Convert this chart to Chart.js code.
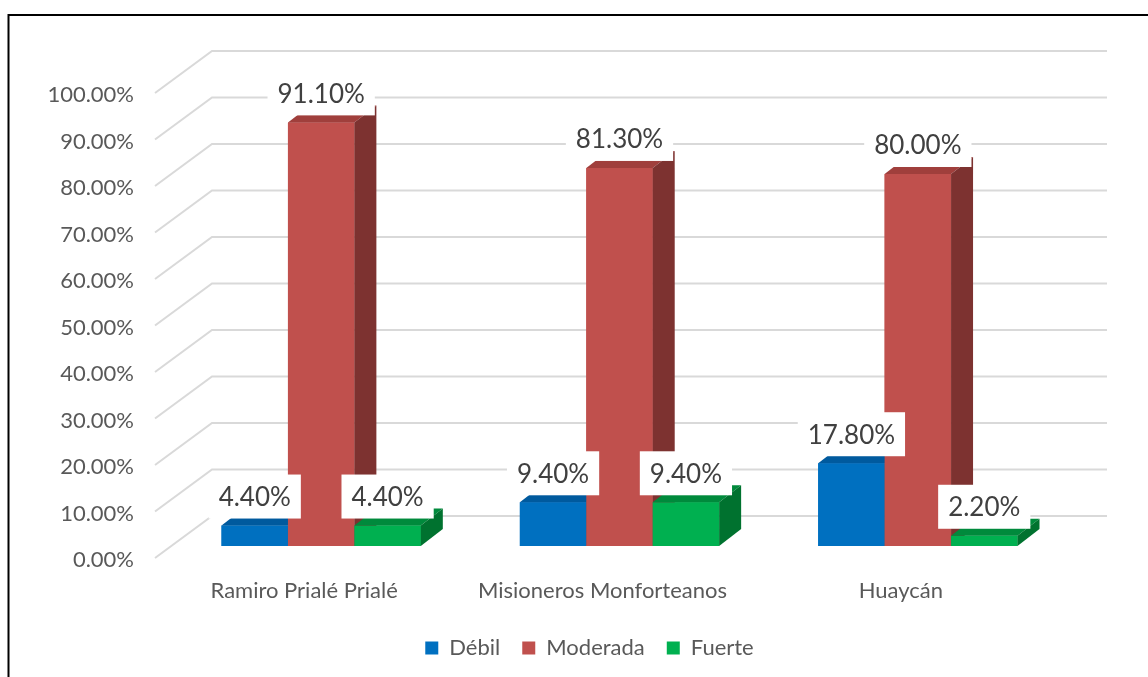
<!DOCTYPE html>
<html>
<head>
<meta charset="utf-8">
<script src="https://cdn.jsdelivr.net/npm/chart.js@4.4.0/dist/chart.umd.min.js"></script>
<style>
  html, body { margin: 0; padding: 0; background: #fff; }
</style>
</head>
<body>
<canvas id="myChart" width="1148" height="677"></canvas>
<script>
const colegios = ["Ramiro Prialé Prialé", "Misioneros Monforteanos", "Huaycán"];
const debilArr = [4.4, 9.4, 17.8];
const moderadaArr = [91.1, 81.3, 80.0];
const fuerteArr = [4.4, 9.4, 2.2];
const yTicks = [0, 10, 20, 30, 40, 50, 60, 70, 80, 90, 100];

const FONT = "Lato";
const PAD_BOTTOM = 8;

// profundidad de las barras y de la pared del fondo (efecto 3D)
const bar3d = { dx: 22, dy: -17 };
const wall = { fx: -17, fy: 12, bx: 40, by: -30 };

const caras = [
  { top: "#005a9e", side: "#004c86" },
  { top: "#a03f3c", side: "#7d3230" },
  { top: "#008a3c", side: "#00722f" },
];

const ctx = document.getElementById("myChart").getContext("2d");

const marco = {
  id: "marco",
  // la leyenda va centrada bajo el área del gráfico, no bajo el lienzo
  afterLayout(chart) {
    chart.legend.left += 56;
    chart.legend.right += 56;
  },
  beforeDraw(chart) {
    const c = chart.ctx;
    c.save();
    c.fillStyle = "#fff";
    c.fillRect(0, 0, chart.width, chart.height);
    c.strokeStyle = "#000";
    c.lineWidth = 2;
    c.beginPath();
    c.moveTo(8.5, chart.height + 2);
    c.lineTo(8.5, 15);
    c.lineTo(chart.width + 2, 15);
    c.stroke();
    c.restore();
  },
};

const pared = {
  id: "pared",
  beforeDatasetsDraw(chart) {
    const c = chart.ctx;
    const y = chart.scales.y;
    const area = chart.chartArea;
    c.save();
    c.strokeStyle = "#d9d9d9";
    c.lineWidth = 2;
    yTicks.forEach((v) => {
      const py = y.getPixelForValue(v);
      c.beginPath();
      c.moveTo(area.left + wall.fx, py + wall.fy);
      c.lineTo(area.left + wall.bx, py + wall.by);
      c.lineTo(area.right + wall.bx, py + wall.by);
      c.stroke();
    });
    c.restore();
  },
};

// Chart.js pinta los datasets del último al primero; aquí se repintan
// en orden (Débil, Moderada, Fuerte) con su cara superior y lateral
const cubos = {
  id: "cubos",
  afterDatasetsDraw(chart) {
    const c = chart.ctx;
    c.save();
    chart.data.datasets.forEach((ds, i) => {
      const col = caras[i];
      chart.getDatasetMeta(i).data.forEach((bar) => {
        bar.draw(c);
        const xl = bar.x - bar.width / 2;
        const xr = bar.x + bar.width / 2;
        const yt = bar.y;
        const yb = bar.base;
        c.fillStyle = col.top;
        c.beginPath();
        c.moveTo(xl, yt);
        c.lineTo(xr, yt);
        c.lineTo(xr + bar3d.dx, yt + bar3d.dy);
        c.lineTo(xl + bar3d.dx, yt + bar3d.dy);
        c.closePath();
        c.fill();
        c.fillStyle = col.side;
        c.beginPath();
        c.moveTo(xr, yt);
        c.lineTo(xr + bar3d.dx, yt + bar3d.dy);
        c.lineTo(xr + bar3d.dx, yb + bar3d.dy);
        c.lineTo(xr, yb);
        c.closePath();
        c.fill();
      });
    });
    c.restore();
  },
};

const etiquetas = {
  id: "etiquetas",
  afterDraw(chart) {
    const c = chart.ctx;
    c.save();
    c.font = "26px " + FONT;
    c.textAlign = "center";
    c.textBaseline = "middle";
    chart.data.datasets.forEach((ds, i) => {
      chart.getDatasetMeta(i).data.forEach((bar, j) => {
        const txt = ds.data[j].toFixed(2) + "%";
        const w = c.measureText(txt).width + 20;
        const cy = bar.y - 29;
        c.fillStyle = "#fff";
        c.fillRect(bar.x - w / 2, cy - 22, w, 44);
        c.fillStyle = "#404040";
        c.fillText(txt, bar.x, cy + 1);
      });
    });
    c.restore();
  },
};

const myChart = new Chart(ctx, {
  type: "bar",
  data: {
    labels: colegios,
    datasets: [
      { label: "Débil", data: debilArr, backgroundColor: "#0070c0" },
      { label: "Moderada", data: moderadaArr, backgroundColor: "#c0504d" },
      { label: "Fuerte", data: fuerteArr, backgroundColor: "#00b050" },
    ],
  },
  options: {
    responsive: false,
    animation: false,
    layout: { padding: { left: 0, top: 81, right: 81, bottom: PAD_BOTTOM } },
    datasets: {
      bar: { categoryPercentage: 0.668, barPercentage: 1.0 },
    },
    scales: {
      x: {
        grid: { display: false },
        border: { display: false },
        ticks: {
          color: "#595959",
          font: { family: FONT, size: 22 },
          padding: 24,
          labelOffset: -17,
        },
        afterFit(s) {
          s.height = s.chart.height - 546 - s.chart.legend.height - PAD_BOTTOM;
        },
      },
      y: {
        min: 0,
        max: 100,
        grid: { display: false },
        border: { display: false },
        ticks: {
          stepSize: 10,
          color: "#595959",
          font: { family: FONT, size: 22 },
          padding: 30,
          labelOffset: 14,
          callback: (v) => v.toFixed(2) + "%",
        },
        afterFit(s) {
          s.width = 172;
        },
      },
    },
    plugins: {
      legend: {
        position: "bottom",
        labels: {
          color: "#595959",
          font: { family: FONT, size: 22 },
          boxWidth: 13,
          boxHeight: 13,
          padding: 22,
        },
      },
      tooltip: { enabled: false },
    },
  },
  plugins: [marco, pared, cubos, etiquetas],
});
</script>
</body>
</html>
